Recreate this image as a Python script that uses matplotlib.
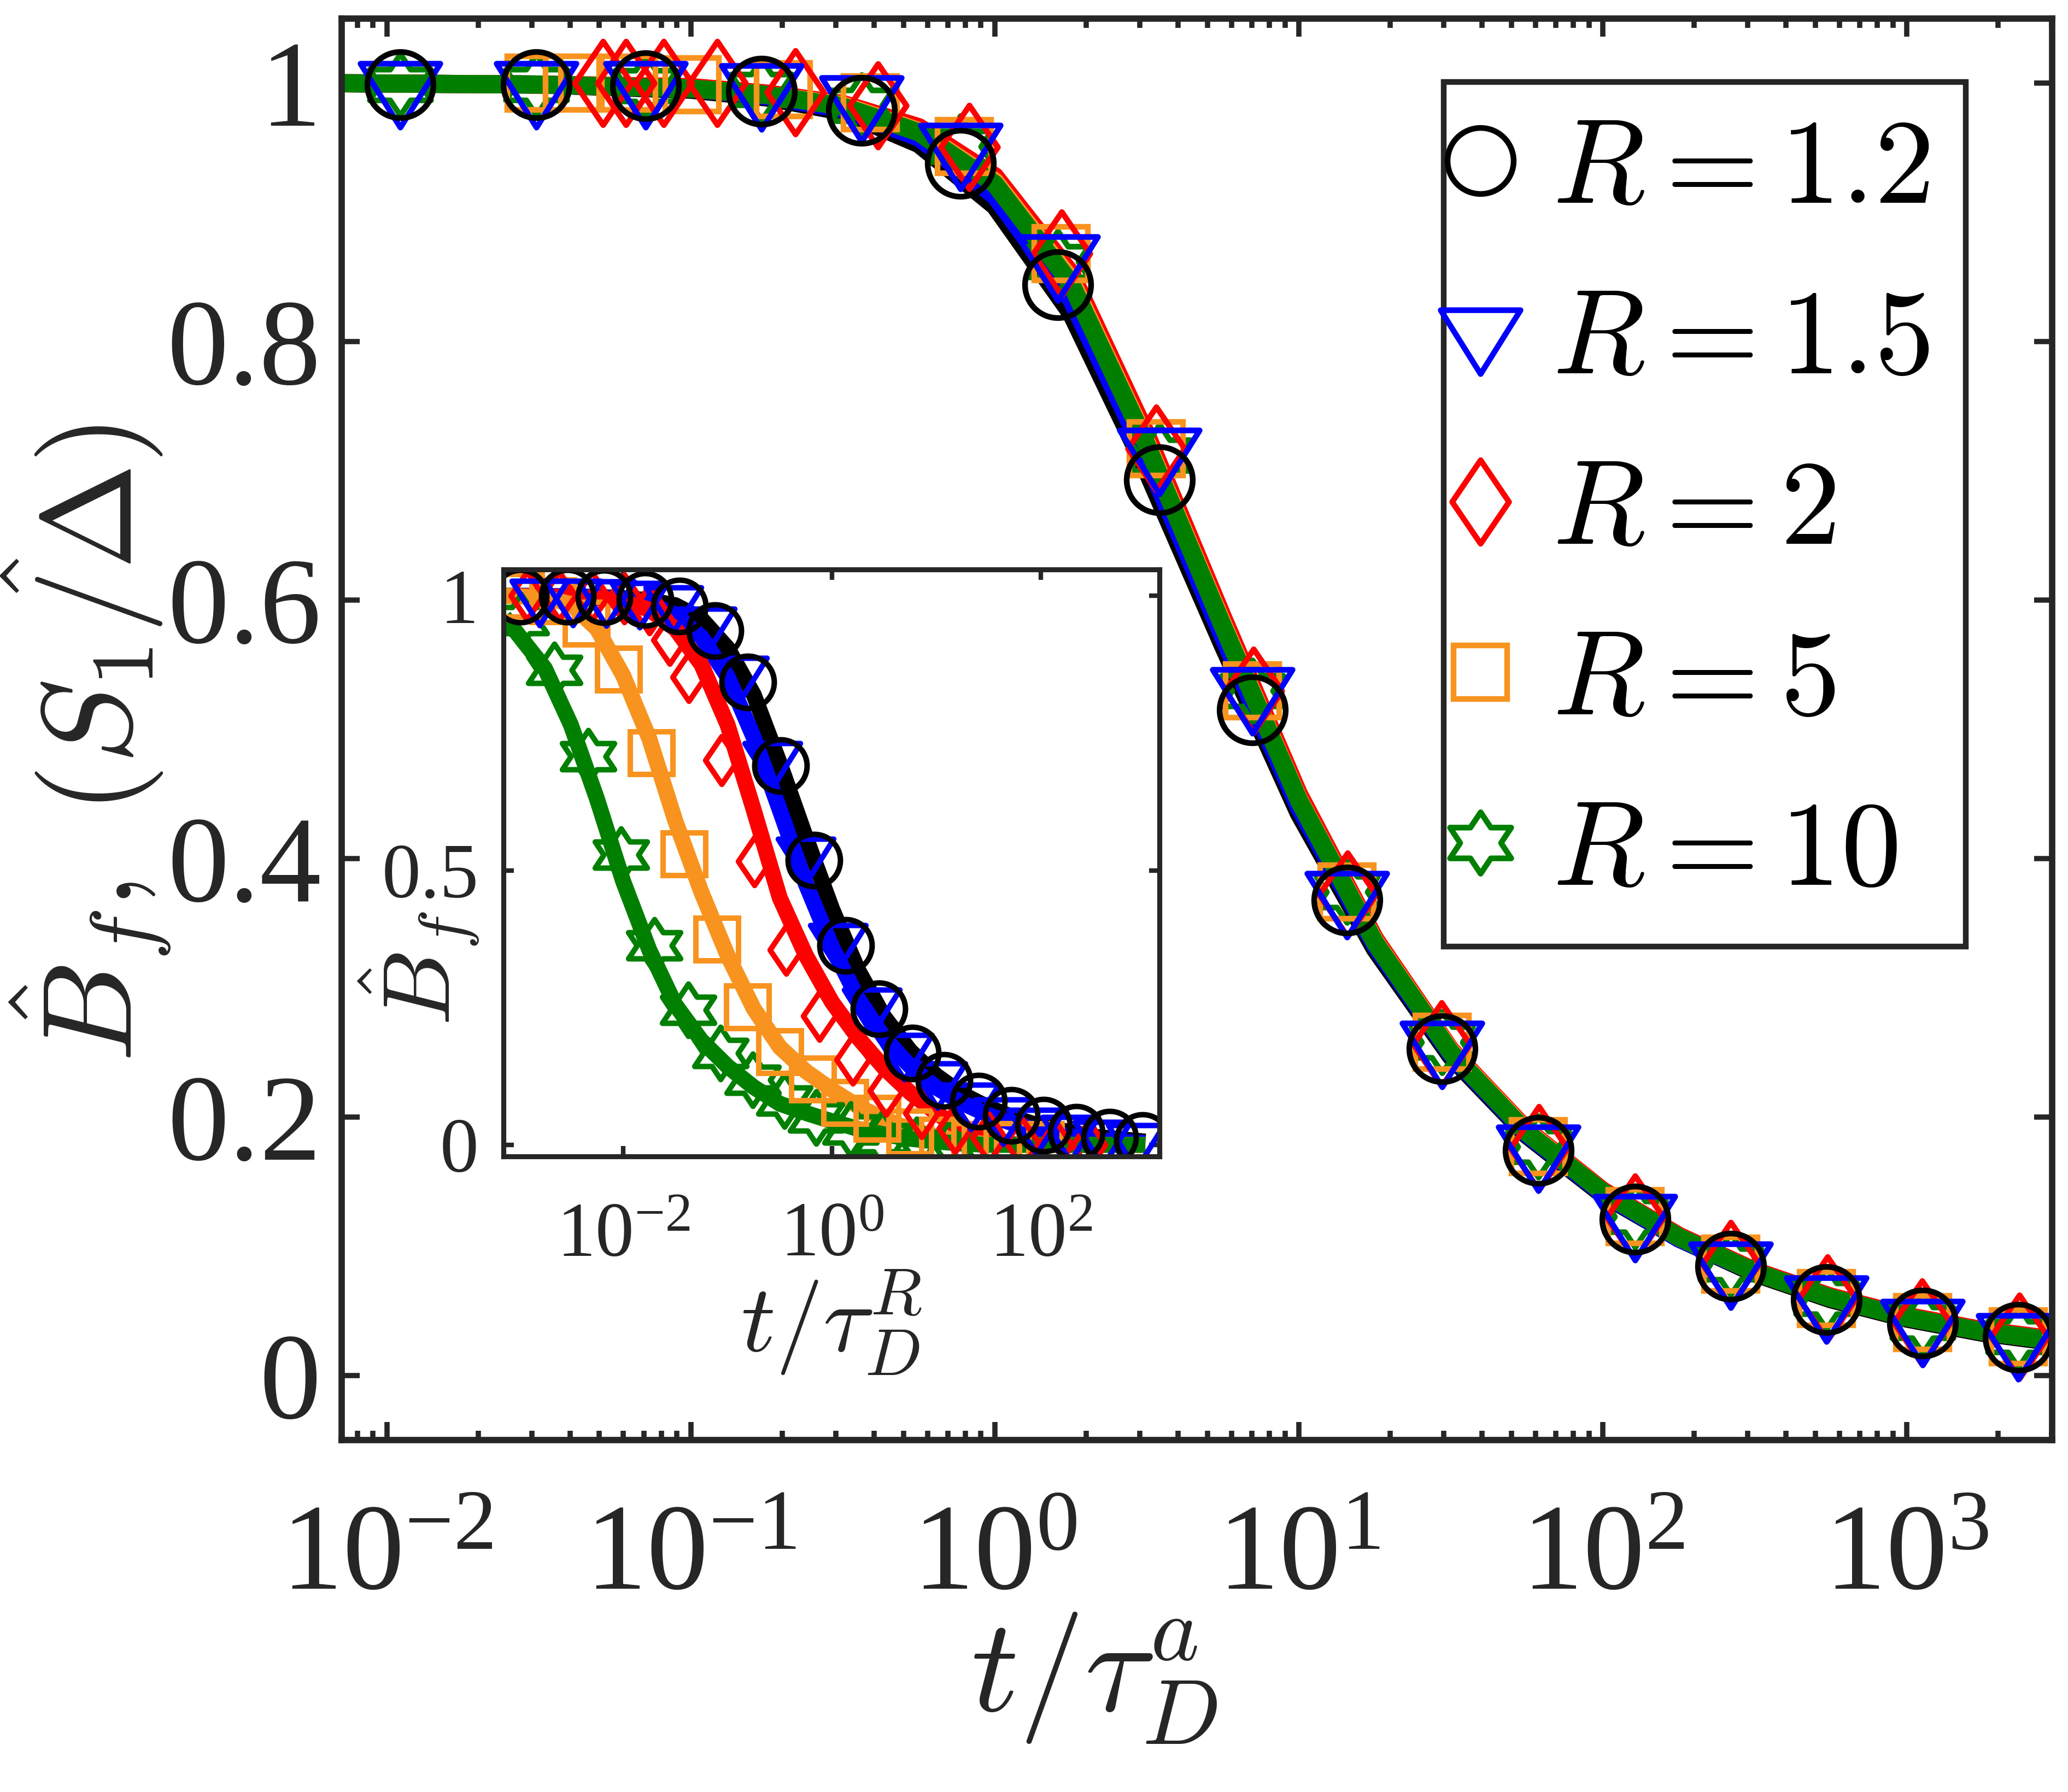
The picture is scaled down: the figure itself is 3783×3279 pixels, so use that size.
import numpy as np
import matplotlib
matplotlib.use("Agg")
import matplotlib.pyplot as plt
from matplotlib.path import Path
from matplotlib.markers import MarkerStyle
from matplotlib.ticker import LogLocator, NullFormatter, NullLocator, FixedLocator

# ---------------- data ----------------
series_labels = [r'$R = 1.2$', r'$R = 1.5$', r'$R = 2$', r'$R = 5$', r'$R = 10$']
series_colors = ['#000000', '#0000ff', '#ff0000', '#f7931e', '#007f00']

# main panel, fitted curves (t / tau_D^a)
t_line = [0.00708, 0.0316, 0.1, 0.178, 0.316, 0.562, 1.0, 1.78, 3.16, 5.62, 10.0,
          17.8, 31.6, 56.2, 100.0, 178.0, 316.0, 562.0, 1000.0, 1778.0, 3020.0]
line_r12 = [1.0, 0.999, 0.995, 0.989, 0.978, 0.953, 0.905, 0.822, 0.700, 0.565, 0.435,
            0.330, 0.247, 0.186, 0.140, 0.106, 0.079, 0.059, 0.044, 0.033, 0.026]
line_r15 = [1.0, 0.999, 0.996, 0.990, 0.980, 0.958, 0.913, 0.833, 0.710, 0.572, 0.440,
            0.333, 0.249, 0.187, 0.141, 0.106, 0.080, 0.060, 0.045, 0.034, 0.027]
line_r2 = [1.0, 0.999, 0.997, 0.992, 0.984, 0.966, 0.928, 0.853, 0.728, 0.587, 0.450,
           0.338, 0.252, 0.190, 0.143, 0.108, 0.081, 0.061, 0.046, 0.035, 0.028]
line_r5 = [1.0, 0.999, 0.996, 0.991, 0.983, 0.963, 0.924, 0.848, 0.722, 0.582, 0.446,
           0.336, 0.251, 0.189, 0.142, 0.107, 0.080, 0.060, 0.045, 0.034, 0.027]
line_r10 = [1.0, 0.999, 0.996, 0.991, 0.982, 0.962, 0.922, 0.845, 0.720, 0.580, 0.445,
            0.335, 0.250, 0.188, 0.142, 0.107, 0.080, 0.060, 0.045, 0.034, 0.027]

# main panel, simulation points
t_pts = [0.01104, 0.0310, 0.0710, 0.171, 0.364, 0.771, 1.611, 3.475, 7.047, 14.39,
         29.58, 61.38, 127.4, 263.6, 544.5, 1125.0, 2323.0]
pts_r12 = [0.999, 0.999, 0.998, 0.994, 0.979, 0.938, 0.844, 0.693, 0.515, 0.368,
           0.253, 0.174, 0.121, 0.0846, 0.0588, 0.0406, 0.0296]
pts_r15 = [0.999, 0.999, 0.999, 0.997, 0.988, 0.951, 0.865, 0.715, 0.530, 0.372,
           0.256, 0.176, 0.122, 0.0855, 0.0592, 0.041, 0.030]
t_pts_r2 = [0.0514, 0.0611, 0.0813, 0.1219, 0.2203, 0.413, 0.8222, 1.660, 3.388, 7.079,
            14.45, 29.51, 61.66, 127.4, 263.0, 549.5, 1122.0, 2344.0]
pts_r2 = [1.0, 1.0, 1.0, 1.0, 0.993, 0.983, 0.9505, 0.868, 0.717, 0.530,
          0.372, 0.256, 0.176, 0.122, 0.086, 0.0595, 0.041, 0.030]
t_pts_r5 = [0.0305, 0.0407, 0.0624, 0.1007, 0.2014, 0.3899, 0.7943, 1.648, 3.388, 7.047,
            14.39, 29.58, 61.38, 127.4, 263.6, 544.5, 1125.0, 2323.0]
pts_r5 = [1.0, 1.0, 1.0, 0.999, 0.995, 0.985, 0.951, 0.868, 0.717, 0.530,
          0.374, 0.258, 0.177, 0.123, 0.086, 0.0595, 0.041, 0.030]
pts_r10 = [0.999, 0.999, 0.998, 0.995, 0.983, 0.951, 0.862, 0.712, 0.530, 0.374,
           0.258, 0.177, 0.123, 0.086, 0.0595, 0.041, 0.030]

# inset, fitted curves (t / tau_D^R)
ti_line = [0.000724, 0.00178, 0.00316, 0.00562, 0.01, 0.0178, 0.0316, 0.0562, 0.1, 0.178,
           0.316, 0.562, 1.0, 1.78, 3.16, 5.62, 10.0, 17.8, 31.6, 56.2, 100.0, 316.0, 1000.0]
iline_r12 = [1.0, 1.0, 0.999, 0.998, 0.996, 0.992, 0.983, 0.958, 0.905, 0.820, 0.695, 0.560,
             0.430, 0.318, 0.233, 0.171, 0.126, 0.092, 0.068, 0.049, 0.034, 0.015, 0.006]
iline_r15 = [1.0, 1.0, 0.999, 0.997, 0.994, 0.986, 0.966, 0.925, 0.853, 0.742, 0.610, 0.475,
             0.360, 0.266, 0.195, 0.143, 0.104, 0.076, 0.054, 0.038, 0.025, 0.009, 0.003]
iline_r2 = [1.0, 0.999, 0.998, 0.996, 0.990, 0.975, 0.940, 0.875, 0.765, 0.610, 0.450, 0.345,
            0.260, 0.195, 0.140, 0.095, 0.058, 0.026, 0.008, 0.001, 0.0, 0.0, 0.0]
iline_r5 = [1.0, 0.997, 0.985, 0.940, 0.855, 0.740, 0.590, 0.460, 0.345, 0.248, 0.178, 0.134,
            0.100, 0.070, 0.047, 0.028, 0.015, 0.006, 0.001, 0.0, 0.0, 0.0, 0.0]
iline_r10 = [0.962, 0.868, 0.765, 0.630, 0.480, 0.355, 0.255, 0.190, 0.143, 0.105, 0.075, 0.058,
             0.043, 0.029, 0.019, 0.011, 0.006, 0.002, 0.0, 0.0, 0.0, 0.0, 0.0]

# inset, simulation points
ti_r12 = [0.001038, 0.002931, 0.006546, 0.01622, 0.03451, 0.07568, 0.156, 0.3221, 0.6714,
          1.358, 2.805, 5.848, 11.83, 25.18, 52.0, 106.2, 219.3, 457.1, 944.1]
ipts_r12 = [0.999, 0.999, 0.998, 0.993, 0.981, 0.937, 0.843, 0.691, 0.518, 0.363, 0.248,
            0.167, 0.117, 0.079, 0.054, 0.036, 0.0225, 0.014, 0.008]
ti_r15 = [0.00158, 0.00331, 0.00692, 0.01445, 0.0302, 0.0631, 0.1288, 0.2692, 0.5623,
          1.148, 2.399, 4.898, 10.23, 21.38, 43.65, 91.2, 190.5, 389.0, 812.8]
ipts_r15 = [1.0, 1.0, 0.999, 0.996, 0.988, 0.950, 0.860, 0.705, 0.530, 0.373, 0.256,
            0.173, 0.121, 0.082, 0.056, 0.037, 0.024, 0.015, 0.009]
ti_r2 = [0.0012, 0.00245, 0.00501, 0.01023, 0.01778, 0.02773, 0.04276, 0.0877, 0.1803,
         0.3631, 0.7586, 1.585, 3.311, 7.244, 15.14, 31.62, 66.07, 138.0, 288.4]
ipts_r2 = [1.0, 1.0, 0.999, 0.995, 0.975, 0.920, 0.852, 0.701, 0.516, 0.355, 0.235,
           0.155, 0.098, 0.058, 0.030, 0.013, 0.004, 0.0, 0.0]
ti_r5 = [0.001047, 0.002138, 0.004467, 0.0091, 0.0187, 0.03846, 0.0791, 0.1563, 0.3192,
         0.6546, 1.34, 2.735, 5.598, 11.48, 23.44, 47.86, 100.0]
ipts_r5 = [1.0, 0.990, 0.950, 0.866, 0.714, 0.529, 0.374, 0.251, 0.169, 0.119, 0.076,
           0.0475, 0.023, 0.008, 0.0, 0.0, 0.0]
ti_r10 = [0.001047, 0.002188, 0.004624, 0.00955, 0.01982, 0.04217, 0.0853, 0.1738, 0.3491,
          0.7079, 1.503, 3.041, 6.457, 13.18]
ipts_r10 = [0.955, 0.865, 0.708, 0.528, 0.363, 0.246, 0.167, 0.118, 0.080, 0.050, 0.028,
            0.012, 0.0, -0.005]

main_lines = [line_r12, line_r15, line_r2, line_r5, line_r10]
main_pts = [(t_pts, pts_r12), (t_pts, pts_r15), (t_pts_r2, pts_r2),
            (t_pts_r5, pts_r5), (t_pts, pts_r10)]
inset_lines = [iline_r12, iline_r15, iline_r2, iline_r5, iline_r10]
inset_pts = [(ti_r12, ipts_r12), (ti_r15, ipts_r15), (ti_r2, ipts_r2),
             (ti_r5, ipts_r5), (ti_r10, ipts_r10)]

# ---------------- marker shapes (MATLAB-like) ----------------
def closed(verts):
    return Path(list(verts) + [verts[0]], closed=True)

tri_down = MarkerStyle(closed([(-1, 0.533), (1, 0.533), (0, -1.067)]), joinstyle='miter')
diamond = MarkerStyle(closed([(0, 1), (0.68, 0), (0, -1), (-0.68, 0)]), joinstyle='miter')
star_v = []
for k in range(6):
    a_out = np.deg2rad(90 + 60 * k)
    a_in = np.deg2rad(120 + 60 * k)
    star_v.append((np.cos(a_out), 0.87 * np.sin(a_out)))
    star_v.append((np.cos(a_in) / np.sqrt(3), 0.87 * np.sin(a_in) / np.sqrt(3)))
hexagram = MarkerStyle(closed(star_v), joinstyle='miter')

markers = ['o', tri_down, diamond, 's', hexagram]
main_ms = [29, 37.4, 36.7, 23.5, 27]
inset_ms = [23, 26, 21, 18.5, 23]

plt.rcParams['font.family'] = ['Liberation Serif', 'DejaVu Serif']
plt.rcParams['mathtext.fontset'] = 'cm'
ax_col = '#262626'

fig = plt.figure(figsize=(3783 / 300, 3279 / 300), dpi=300)
ax = fig.add_axes([0.1652, 0.1964, 0.8271, 0.7932])

for yv, c in zip(main_lines, series_colors):
    ax.plot(t_line, yv, '-', color=c, lw=8, solid_capstyle='butt')
handles = [None] * 5
for i in [4, 3, 2, 1, 0]:
    xs, ys = main_pts[i]
    h, = ax.plot(xs, ys, ls='none', marker=markers[i], ms=main_ms[i], mfc='none',
                 mec=series_colors[i], mew=2.5, label=series_labels[i])
    handles[i] = h

ax.set_xscale('log')
ax.set_xlim(10 ** -2.149, 10 ** 3.478)
ax.set_ylim(-0.05, 1.05)
ax.xaxis.set_major_locator(LogLocator(base=10, numticks=20))
ax.xaxis.set_minor_locator(LogLocator(base=10, subs=np.arange(2, 10), numticks=20))
ax.xaxis.set_minor_formatter(NullFormatter())
ax.set_yticks([0, 0.2, 0.4, 0.6, 0.8, 1.0], ['0', '0.2', '0.4', '0.6', '0.8', '1'])
ax.tick_params(which='both', direction='in', top=True, right=True,
               color=ax_col, labelcolor=ax_col, width=2.3)
ax.tick_params(which='major', length=8, labelsize=54)
ax.tick_params(which='minor', length=4)
ax.tick_params(axis='x', pad=28)
ax.tick_params(axis='y', pad=9)
for s in ax.spines.values():
    s.set_linewidth(2.8)
    s.set_color(ax_col)

ax.set_xlabel(r'$t/\tau_D^a$', fontsize=58, color=ax_col)
ax.xaxis.set_label_coords(0.44, -0.12)
ax.set_ylabel(r'$\hat{B}_f,\ (\hat{S_1/\Delta})$', fontsize=56, color=ax_col)
ax.yaxis.set_label_coords(-0.099, 0.49)

leg = ax.legend(handles, series_labels, loc='upper right', bbox_to_anchor=(0.9495, 0.9554),
                borderaxespad=0, fancybox=False, framealpha=1, edgecolor=ax_col,
                fontsize=53, handlelength=0, handletextpad=0.6, borderpad=0.3,
                labelspacing=0.5, numpoints=1)
leg.get_frame().set_linewidth(2.5)

# ---------------- inset ----------------
axi = fig.add_axes([0.2435, 0.3547, 0.3172, 0.3275])
for yv, c in zip(inset_lines, series_colors):
    axi.plot(ti_line, yv, '-', color=c, lw=7, solid_capstyle='butt')
for i in [4, 3, 2, 1, 0]:
    xs, ys = inset_pts[i]
    axi.plot(xs, ys, ls='none', marker=markers[i], ms=inset_ms[i], mfc='none',
             mec=series_colors[i], mew=2.4)

axi.set_xscale('log')
axi.set_xlim(10 ** -3.145, 10 ** 3.136)
axi.set_ylim(-0.021, 1.048)
axi.xaxis.set_major_locator(FixedLocator([1e-2, 1e0, 1e2]))
axi.xaxis.set_minor_locator(NullLocator())
axi.set_yticks([0, 0.5, 1.0], ['0', '0.5', '1'])
axi.tick_params(which='both', direction='in', top=True, right=True,
                color=ax_col, labelcolor=ax_col, width=2.0, length=4.5, labelsize=34)
axi.tick_params(axis='x', pad=20)
axi.tick_params(axis='y', pad=11)
for s in axi.spines.values():
    s.set_linewidth(2.2)
    s.set_color(ax_col)
axi.set_xlabel(r'$t/\tau_D^R$', fontsize=42, color=ax_col)
axi.xaxis.set_label_coords(0.5, -0.19)
axi.set_ylabel(r'$\hat{B}_f$', fontsize=42, color=ax_col)
axi.yaxis.set_label_coords(-0.035, 0.32)

fig.savefig('out.png', dpi=300)
